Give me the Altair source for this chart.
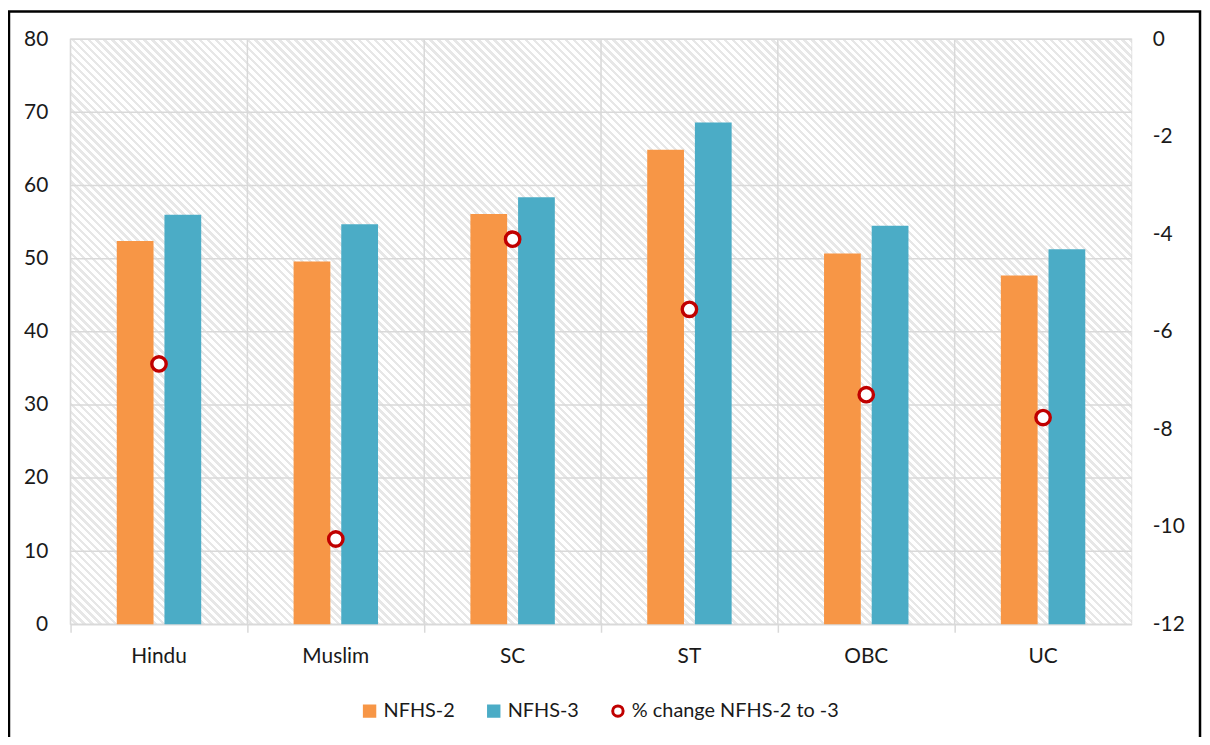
import altair as alt
import pandas as pd

# ---------------- data ----------------
categories = ["Hindu", "Muslim", "SC", "ST", "OBC", "UC"]
nfhs2 = [52.4, 49.6, 56.1, 64.9, 50.7, 47.7]
nfhs3 = [56.0, 54.7, 58.4, 68.6, 54.5, 51.3]
pct_change = [-6.66, -10.25, -4.10, -5.54, -7.29, -7.76]
series_names = ["NFHS-2", "NFHS-3", "% change NFHS-2 to -3"]
left_ticks = [0, 10, 20, 30, 40, 50, 60, 70, 80]
right_ticks = [-12, -10, -8, -6, -4, -2, 0]

bars_df = pd.DataFrame(
    [{"category": c, "series": series_names[0], "value": v} for c, v in zip(categories, nfhs2)]
    + [{"category": c, "series": series_names[1], "value": v} for c, v in zip(categories, nfhs3)]
)
points_df = pd.DataFrame(
    {"category": categories, "series": [series_names[2]] * len(categories), "pct": pct_change}
)
cat_df = pd.DataFrame({"category": categories})
hgrid_df = pd.DataFrame({"v": left_ticks})

# ---------------- style ----------------
W, H = 1068, 589
PAD_L, PAD_T, PAD_R, PAD_B = 63, 29, 71, 111
FONT = "Lato"
FS = 21
TXT = "#1a1a1a"
GRID = "#d9d9d9"
FILLS = ["#f79646", "#4bacc6", "#ffffff"]
STROKES = ["#f79646", "#4bacc6", "#c00000"]
SHAPES = ["square", "square", "circle"]

# diagonal hatch of the plot background (a striped linear gradient)
period_px = 8
n_stripes = round((W + H) / period_px)
r = H / W
t = (1 + r) / (1 + r * r)
stops = []
for i in range(n_stripes):
    a = i / n_stripes
    b = (i + 0.55) / n_stripes
    c = (i + 1) / n_stripes
    stops += [
        {"offset": round(a, 6), "color": "#ffffff"},
        {"offset": round(b, 6), "color": "#ffffff"},
        {"offset": round(b, 6), "color": "#e7e7e7"},
        {"offset": round(c, 6), "color": "#e7e7e7"},
    ]
hatch = {"gradient": "linear", "x1": 0, "y1": 1, "x2": t, "y2": 1 - t * r, "stops": stops}

x_scale = alt.Scale(domain=categories, paddingInner=0, paddingOuter=0)
x_axis = alt.Axis(
    title=None, bandPosition=0, grid=False,
    ticks=True, tickColor=GRID, tickWidth=1.5, tickSize=8,
    domain=True, domainColor=GRID, domainWidth=1.5,
    labelFont=FONT, labelFontSize=FS, labelColor=TXT, labelPadding=13,
    labelAngle=0,
)
x_enc = alt.X("category:N", sort=categories, scale=x_scale, axis=x_axis)

legend = alt.Legend(
    title=None, orient="none", direction="horizontal",
    legendX=291, legendY=666,
    labelFont=FONT, labelFontSize=20, labelColor=TXT, labelOffset=4,
    labelLimit=0,
    columnPadding=27, symbolSize=110, symbolStrokeWidth=3, symbolOpacity=1,
)
fill_enc = alt.Fill("series:N", scale=alt.Scale(domain=series_names, range=FILLS), legend=legend)
stroke_enc = alt.Stroke("series:N", scale=alt.Scale(domain=series_names, range=STROKES), legend=legend)
shape_enc = alt.Shape("series:N", scale=alt.Scale(domain=series_names, range=SHAPES), legend=legend)

left_scale = alt.Scale(domain=[0, 80], nice=False)

background = alt.Chart(alt.Data(values=[{"f": 1}])).mark_rect(fill=hatch).encode(
    x=alt.value(0), x2=alt.value("width"), y=alt.value(0), y2=alt.value("height"),
)

vgrid = alt.Chart(cat_df).mark_rule(color=GRID, strokeWidth=1.5).encode(
    x=alt.X("category:N", sort=categories, scale=x_scale, axis=x_axis, bandPosition=0),
)

hgrid = alt.Chart(hgrid_df).mark_rule(color=GRID, strokeWidth=1.5).encode(
    y=alt.Y("v:Q", scale=left_scale, axis=None),
)

bars = alt.Chart(bars_df).mark_bar(strokeWidth=0).encode(
    x=x_enc,
    xOffset=alt.XOffset(
        "series:N", sort=series_names[:2],
        scale=alt.Scale(paddingInner=0.229, paddingOuter=0.969),
    ),
    y=alt.Y(
        "value:Q",
        scale=left_scale,
        axis=alt.Axis(
            title=None, values=left_ticks, grid=False,
            domain=False, ticks=False, labelFont=FONT, labelFontSize=FS,
            labelColor=TXT, labelPadding=23,
        ),
    ),
    fill=fill_enc,
    stroke=stroke_enc,
)

points = alt.Chart(points_df).mark_point(
    filled=True, strokeWidth=3.4, size=210, opacity=1
).encode(
    x=x_enc,
    y=alt.Y(
        "pct:Q",
        scale=alt.Scale(domain=[-12, 0], nice=False),
        axis=alt.Axis(
            title=None, orient="right", values=right_ticks, grid=False,
            domain=False, ticks=False, labelFont=FONT, labelFontSize=FS,
            labelColor=TXT, labelPadding=21, labelAlign="left",
            labelExpr="'' + datum.value",
        ),
    ),
    fill=fill_enc,
    stroke=stroke_enc,
    shape=shape_enc,
)

frame = alt.Chart(alt.Data(values=[{"f": 1}])).mark_rect(
    fill=None, stroke="#000000", strokeWidth=2.5
).encode(
    x=alt.value(-PAD_L + 1), x2=alt.value(W + PAD_R - 2),
    y=alt.value(-PAD_T + 1), y2=alt.value(H + PAD_B + 20),
)

chart = (
    alt.layer(background, vgrid, hgrid, bars, points, frame)
    .resolve_scale(y="independent")
    .properties(
        width=W, height=H,
        autosize=alt.AutoSizeParams(type="none"),
        padding={"left": PAD_L, "top": PAD_T, "right": PAD_R, "bottom": PAD_B},
        background="#ffffff",
    )
    .configure_view(stroke=GRID, strokeWidth=1.5)
)

chart.save("out.html", embed_options={"renderer": "svg", "actions": False})
